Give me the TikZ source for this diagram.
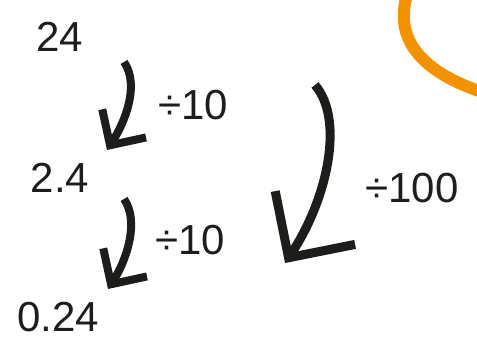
\documentclass[tikz,border=0pt]{standalone}
\usepackage{fontspec}
\setmainfont{Liberation Sans}
\usetikzlibrary{arrows.meta, positioning}
\definecolor{inkblack}{RGB}{29,29,27}
\definecolor{markorange}{RGB}{243,146,0}

\begin{document}
\begin{tikzpicture}[x=1pt, y=-1pt,
  num/.style={font=\fontsize{42}{48}\selectfont, text=inkblack, inner sep=0pt},
  divarrow/.style={draw=inkblack, line width=8pt, -{Straight Barb[length=26pt, width=52pt]}},
  bigarrow/.style={draw=inkblack, line width=9pt, -{Straight Barb[length=48pt, width=96pt]}},
  ]
  \useasboundingbox (0,0) rectangle (477,349);
  \clip (0,0) rectangle (477,349);
  % orange swoosh, top right
  \draw[markorange, line width=12pt] (407,-5) .. controls (394,38) and (420,72) .. (485,93);

  % numbers
  \node[num] (n24) at (60,37) {24};
  \node[num] (n2p4) at (60,178) {2.4};
  \node[num] (n0p24) at (58,317) {0.24};

  % operations
  \node[num] (d10a) at (193,105) {÷10};
  \node[num] (d10b) at (190,240) {÷10};
  \node[num] (d100) at (412,188) {÷100};

  % arrow ends
  \coordinate (a1s) at (124,62);
  \coordinate (a1e) at (107,150);
  \coordinate (a2s) at (124,199);
  \coordinate (a2e) at (108,289);
  \coordinate (a3s) at (315,85);
  \coordinate (a3e) at (285,263);

  \draw[divarrow] (a1s) .. controls +(16,23) and +(18,-28) .. (a1e);
  \draw[divarrow] (a2s) .. controls +(16,23) and +(18,-28) .. (a2e);
  \draw[bigarrow] (a3s) .. controls +(30,35) and +(42,-63) .. (a3e);
\end{tikzpicture}
\end{document}
